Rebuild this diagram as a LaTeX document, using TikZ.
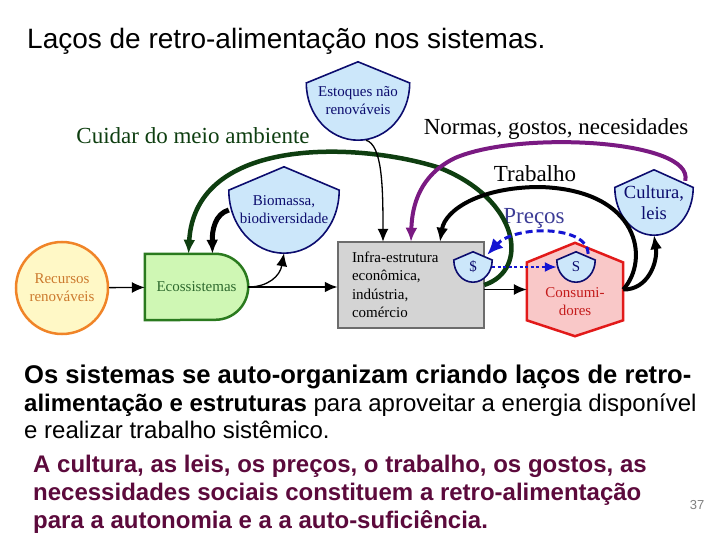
\documentclass[tikz,border=0pt]{standalone}
\usepackage{fontspec}
\setmainfont{Liberation Serif}
\newfontfamily\arialfont{Liberation Sans}
\usetikzlibrary{arrows.meta,calc,backgrounds}

\definecolor{tankline}{HTML}{0C0C6E}
\definecolor{tankfill}{HTML}{CCE7FA}
\definecolor{carecol}{HTML}{0E3E10}
\definecolor{ecoline}{HTML}{2A7A1E}
\definecolor{ecofill}{HTML}{CFF7B4}
\definecolor{ecotext}{HTML}{2E6A2E}
\definecolor{recline}{HTML}{F08428}
\definecolor{recfill}{HTML}{FFF8C6}
\definecolor{rectext}{HTML}{CC7A2E}
\definecolor{conline}{HTML}{E21A1A}
\definecolor{confill}{HTML}{F9C8C8}
\definecolor{context}{HTML}{C41C1C}
\definecolor{infrafill}{HTML}{D4D4D4}
\definecolor{infraline}{HTML}{6C6C6C}
\definecolor{normcol}{HTML}{7A1A82}
\definecolor{pricecol}{HTML}{3C3C96}
\definecolor{pricedash}{HTML}{1414D2}
\definecolor{slidemaroon}{HTML}{5C0A3C}

% storage tank outline drawn round a named node
\newcommand{\tankdraw}[1]{%
  \filldraw[tank] (#1.north) -- ($(#1.north east)!0.27!(#1.south east)$)
    .. controls ($(#1.north east)!0.68!(#1.south east)$) and ($(#1.south)!0.55!(#1.south east)$) .. (#1.south)
    .. controls ($(#1.south)!0.55!(#1.south west)$) and ($(#1.north west)!0.68!(#1.south west)$) .. ($(#1.north west)!0.27!(#1.south west)$) -- cycle;}

\begin{document}
\begin{tikzpicture}
  [x=1pt,y=-1pt,every node/.style={inner sep=0pt,font=\fontsize{15}{18}\selectfont},
   flow/.style={-{Latex[length=13pt,width=11pt]},line width=1.3pt},
   loop/.style={-{Latex[length=14pt,width=12pt]},line width=4pt}]
  \tikzstyle{tank} = [draw=tankline,fill=tankfill,line width=1.6pt]
  \tikzstyle{tanktext} = [text=tankline,align=center]
  \tikzstyle{big} = [anchor=base,font=\fontsize{23}{26}\selectfont]

  \useasboundingbox (0,0) rectangle (720,540);

  \node[anchor=base west,font=\arialfont\fontsize{28}{32}\selectfont] (title) at (27,49) {Laços de retro-alimentação nos sistemas.};

  % tanks
  \node[tanktext,minimum width=103,minimum height=78] (est) at (358,101) {Estoques não\\renováveis};
  \node[tanktext,minimum width=110,minimum height=86] (bio) at (284,210) {Biomassa,\\biodiversidade};
  \node[tanktext,minimum width=78,minimum height=65,font=\fontsize{18.5}{21}\selectfont] (cul) at (654,202.5) {Cultura,\\leis};
  \node[tanktext,minimum width=38,minimum height=30] (dol) at (473,267) {\$};
  \node[tanktext,minimum width=38,minimum height=30] (ess) at (576,267) {S};

  \node[circle,draw=recline,fill=recfill,line width=2.5pt,minimum size=92,text=rectext,align=center] (rec) at (62,288) {Recursos\\renováveis};
  \node[minimum width=103,minimum height=66,text=ecotext] (eco) at (196.5,287) {Ecossistemas};
  \node[minimum height=86,text width=118pt,inner xsep=14pt,align=left,font=\fontsize{15}{18.5}\selectfont] (infra) at (411,285) {Infra-estrutura\\econômica,\\indústria,\\comércio};
  \node[minimum width=96,minimum height=93,label={[name=contxt,text=context,align=center,yshift=-12.5pt]center:Consumi-\\dores}] (con) at (575,289.5) {};

  \node[big,text=carecol] (care) at (193,144) {Cuidar do meio ambiente};
  \node[big] (norms) at (556,135) {Normas, gostos, necesidades};
  \node[big] (work) at (535,182) {Trabalho};
  \node[big,text=pricecol] (price) at (534,223) {Preços};

  \begin{pgfonlayer}{background}
    \filldraw[draw=ecoline,fill=ecofill,line width=2.5pt] (eco.north west) -- ($(eco.north east)+(-33,0)$)
      arc[start angle=-90,end angle=90,radius=33] -- (eco.south west) -- cycle;
    \filldraw[draw=conline,fill=confill,line width=2.5pt] (con.north) -- ($(con.north east)!0.21!(con.south east)$)
      -- ($(con.north east)!0.83!(con.south east)$) -- (con.south) -- ($(con.north west)!0.83!(con.south west)$)
      -- ($(con.north west)!0.21!(con.south west)$) -- cycle;
    \filldraw[draw=infraline,fill=infrafill,line width=2pt] (infra.north west) rectangle (infra.south east);
    \foreach \t in {est,bio,cul,dol,ess} \tankdraw{\t};
  \end{pgfonlayer}

  \draw[flow] (rec) -- (eco);
  \draw[flow,line width=2.5pt] (eco.east) -- (eco.east -| infra.west);
  \draw[flow] (eco.east) .. controls (268,287) and (280,276) .. (bio.south);
  \draw[loop,line width=5pt] (bio.west) .. controls (215,214) and (212,230) .. ($(eco.north)+(16,0)$);
  \draw[loop,color=carecol,line width=4.5pt] (infra.east) .. controls (530,270) and (520,200) .. (440,168)
    .. controls (360,142) and (195,135) .. ($(eco.north)+(-8,0)$);
  \draw[flow] ($(est.south)+(8,0)$) .. controls (382,145) and (383,185) .. ($(infra.north)+(-28,0)$);
  \draw[loop,color=normcol] ($(cul.north east)+(-8,11)$) .. controls (695,140) and (520,130) .. (455,158)
    .. controls (420,175) and (412,205) .. (infra.north);
  \draw[loop] (con.east) .. controls (650,260) and (640,190) .. (540,187)
    .. controls (480,187) and (445,210) .. ($(infra.north)+(29,0)$);
  \draw[loop] (con.east) .. controls (648,290) and (658,262) .. (cul.south);
  \draw[color=pricedash,line width=3pt,dash pattern=on 7pt off 4pt,-{Latex[length=16pt,width=14pt]}]
    ($(ess.north east)+(-7,2)$) .. controls (588,225) and (515,225) .. ($(dol.north east)+(-5,3)$);
  \draw[color=pricedash,line width=2pt,dash pattern=on 3pt off 2.5pt,-{Latex[length=12pt,width=10pt]}] (dol.east) -- (ess.west);
  \draw[flow] (infra.east |- con.west) -- (con.west);

  \node[anchor=north west,align=left,font=\arialfont\fontsize{24}{27.5}\selectfont] (para) at (24,365)
    {{\fontsize{25.6}{27.5}\selectfont\bfseries Os sistemas se auto-organizam criando laços de retro-}\\\textbf{alimentação e estruturas} para aproveitar a energia disponível\\e realizar trabalho sistêmico.};
  \node[anchor=north west,align=left,text=slidemaroon,font=\arialfont\bfseries\fontsize{24}{28}\selectfont] (moral) at (33,455)
    {A cultura, as leis, os preços, o trabalho, os gostos, as\\necessidades sociais constituem a retro-alimentação\\para a autonomia e a a auto-suficiência.};
  \node[text=gray,font=\arialfont\fontsize{13}{15}\selectfont] (pageno) at (697,505) {37};
\end{tikzpicture}
\end{document}
